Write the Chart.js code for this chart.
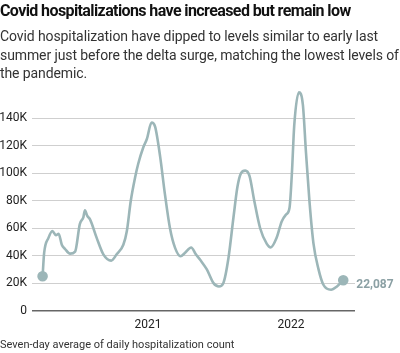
<!DOCTYPE html>
<html lang="en">
<head>
<meta charset="UTF-8">
<title>Covid hospitalizations</title>
<script src="https://cdn.jsdelivr.net/npm/chart.js"></script>
<style>
  body { margin: 0; width: 400px; height: 353px; position: relative; background: #fff; overflow: hidden;
         font-family: Roboto, "Liberation Sans", sans-serif; color: #222; }
  #title { position: absolute; left: 0; top: 1px; font-size: 16px; font-weight: bold; letter-spacing: -0.6px; white-space: nowrap; color: #111; }
  #sub { position: absolute; left: 0; top: 27px; font-size: 14px; line-height: 18.5px; color: #333; letter-spacing: -0.1px; white-space: nowrap; }
  #note { position: absolute; left: 0; top: 338px; font-size: 11px; color: #333; white-space: nowrap; }
  #wrap { position: absolute; left: 0; top: 0; width: 400px; height: 353px; }
</style>
</head>
<body>
<div id="wrap"><canvas id="grafico"></canvas></div>
<div id="title">Covid hospitalizations have increased but remain low</div>
<div id="sub">Covid hospitalization have dipped to levels similar to early last<br>summer just before the delta surge, matching the lowest levels of<br>the pandemic.</div>
<div id="note">Seven-day average of daily hospitalization count</div>

<script>
// seven-day average of daily hospitalizations
const dates = [
  '2020-04-07','2020-04-11','2020-04-22','2020-05-02','2020-05-11','2020-05-18','2020-05-26','2020-06-03',
  '2020-06-16','2020-06-29','2020-07-11','2020-07-20','2020-07-24','2020-07-30','2020-08-06','2020-08-23',
  '2020-09-09','2020-09-29','2020-10-13','2020-10-30','2020-11-08','2020-11-18','2020-11-29','2020-12-07',
  '2020-12-20','2020-12-29','2021-01-10','2021-01-19','2021-02-01','2021-02-13','2021-02-26','2021-03-11',
  '2021-03-25','2021-04-05','2021-04-21','2021-05-03','2021-05-14','2021-05-31','2021-06-17','2021-07-01',
  '2021-07-12','2021-07-25','2021-08-07','2021-08-17','2021-08-26','2021-09-06','2021-09-17','2021-09-29',
  '2021-10-14','2021-10-31','2021-11-10','2021-11-25','2021-12-08','2021-12-19','2021-12-28','2022-01-03',
  '2022-01-09','2022-01-21','2022-01-31','2022-02-08','2022-02-17','2022-02-27','2022-03-12','2022-03-24',
  '2022-04-13','2022-04-28','2022-05-14'
];
const hospitalized = [
  25000, 42000, 53000, 58000, 55000, 56000, 48000, 45000,
  41500, 43000, 63000, 68000, 73000, 69000, 66500, 53000,
  41000, 36400, 41000, 48000, 58000, 80000, 97000, 107000,
  119000, 125000, 137000, 134000, 112000, 85000, 60000, 45700,
  39600, 42000, 46000, 41000, 37000, 30000, 20000, 17600,
  20000, 38000, 68000, 90000, 100000, 102000, 98000, 80000,
  60000, 48600, 46000, 53000, 65000, 70000, 75000, 100000,
  135000, 159000, 150000, 115000, 79000, 49000, 30000, 19000,
  15200, 17600, 22087
];
const yearTicks = [2021, 2022];
const yTicks = [0, 20000, 40000, 60000, 80000, 100000, 120000, 140000];

const DAY = 86400000;
const jan1 = y => Date.UTC(y, 0, 1);
const lineColor = '#9cb6b8';

const endLabel = {
  id: 'endLabel',
  afterDatasetsDraw(chart) {
    const pts = chart.getDatasetMeta(0).data;
    const last = pts[pts.length - 1];
    const ctx = chart.ctx;
    ctx.save();
    ctx.font = 'bold 12px Roboto';
    ctx.fillStyle = '#8ba0a4';
    ctx.textBaseline = 'middle';
    ctx.fillText(hospitalized[hospitalized.length - 1].toLocaleString('en-US'), last.x + 13, last.y + 5);
    ctx.restore();
  }
};

Chart.defaults.font.family = 'Roboto';
Chart.defaults.color = '#222';

const n = hospitalized.length;
new Chart(document.getElementById('grafico'), {
  type: 'line',
  data: {
    datasets: [{
      data: dates.map((d, i) => ({ x: Date.parse(d), y: hospitalized[i] })),
      borderColor: lineColor,
      backgroundColor: lineColor,
      borderWidth: 2.6,
      cubicInterpolationMode: 'monotone',
      pointRadius: ctx => (ctx.dataIndex === 0 || ctx.dataIndex === n - 1) ? 4 : 0,
      pointHoverRadius: 0
    }]
  },
  options: {
    responsive: true,
    maintainAspectRatio: false,
    animation: false,
    layout: { padding: { top: 91, right: 45, bottom: 14, left: 0 } },
    plugins: { legend: { display: false }, tooltip: { enabled: false } },
    scales: {
      x: {
        type: 'linear',
        min: jan1(2021) - 296 * DAY,
        max: jan1(2021) + 528 * DAY,
        afterBuildTicks: s => { s.ticks = yearTicks.map(y => ({ value: jan1(y) })); },
        ticks: { callback: v => new Date(v).getUTCFullYear(), font: { size: 12 }, padding: 7, maxRotation: 0 },
        grid: { display: false, drawTicks: false },
        border: { display: false }
      },
      y: {
        min: 0,
        max: 160000,
        afterBuildTicks: s => { s.ticks = yTicks.map(v => ({ value: v })); },
        afterFit: s => { s.width = 32; },
        ticks: { callback: v => v === 0 ? '0' : (v / 1000) + 'K', font: { size: 12 }, padding: 5 },
        grid: {
          drawTicks: false,
          color: c => c.tick && c.tick.value === 0 ? '#666' : '#cfcfcf',
          lineWidth: c => c.tick && c.tick.value === 0 ? 1.5 : 1
        },
        border: { display: false }
      }
    }
  },
  plugins: [endLabel]
});
</script>
</body>
</html>
